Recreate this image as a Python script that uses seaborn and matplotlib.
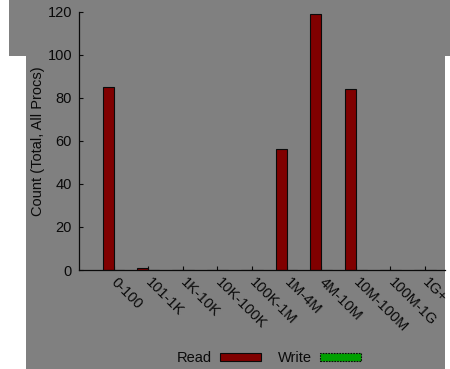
import matplotlib
matplotlib.use("Agg")
import matplotlib.pyplot as plt
from matplotlib.patches import Patch, Rectangle
import seaborn as sns
import pandas as pd

# Access-size buckets and per-operation counts (all processes)
sizes = ["0-100", "101-1K", "1K-10K", "10K-100K", "100K-1M",
         "1M-4M", "4M-10M", "10M-100M", "100M-1G", "1G+"]
read_counts = [85, 1, 0, 0, 0, 56, 119, 84, 0, 0]
write_counts = [0, 0, 0, 0, 0, 0, 0, 0, 0, 0]
ops = ["Read", "Write"]
colors = {"Read": "#800000", "Write": "#00a000"}
y_ticks = [0, 20, 40, 60, 80, 100, 120]

df = pd.DataFrame({
    "size": sizes * 2,
    "count": read_counts + write_counts,
    "op": ["Read"] * len(sizes) + ["Write"] * len(sizes),
})

sns.set_theme(style="white")
plt.rcParams["font.family"] = ["Liberation Sans", "DejaVu Sans"]
plt.rcParams["text.color"] = "#0a0a0a"

W, H = 450, 369
FS = 10.5
fig = plt.figure(figsize=(W / 100, H / 100), dpi=100)
fig.patch.set_facecolor("white")

gray = "#808080"
# panel backgrounds
fig.patches.append(Rectangle((9 / W, 1 - 56 / H), (W - 9) / W, 56 / H,
                             transform=fig.transFigure, facecolor=gray,
                             edgecolor="none", zorder=-10))
fig.patches.append(Rectangle((26 / W, 0), (445 - 26) / W, 1 - 56 / H,
                             transform=fig.transFigure, facecolor=gray,
                             edgecolor="none", zorder=-10))

ax = fig.add_axes([79 / W, 99 / H, (445 - 79) / W, (357.3 - 99) / H])
ax.set_facecolor("none")

sns.barplot(data=df, x="size", y="count", hue="op", hue_order=ops,
            order=sizes, palette=colors, saturation=1, width=0.62,
            edgecolor="#0a0a0a", linewidth=0.8, legend=False, ax=ax)

ax.set_xlim(-1, -1 + (445 - 79) / 34.6)
ax.set_ylim(0, 120)
ax.set_yticks(y_ticks)
ax.set_yticklabels([str(v) for v in y_ticks], fontsize=FS)
ax.set_xticks(range(len(sizes)))
ax.set_xticklabels(sizes, fontsize=FS, rotation=-45,
                   rotation_mode="anchor", ha="left", va="center")
ax.tick_params(axis="both", direction="in", length=3, width=0.8,
               color="#0a0a0a", labelcolor="#0a0a0a")
ax.tick_params(axis="x", pad=7, bottom=True)
ax.tick_params(axis="y", pad=5, left=True)
ax.set_xlabel("")
ax.set_ylabel("Count (Total, All Procs)", fontsize=FS, labelpad=1.5,
              color="#0a0a0a")

for side in ["top", "right"]:
    ax.spines[side].set_visible(False)
for side in ["left", "bottom"]:
    ax.spines[side].set_color("#0a0a0a")
    ax.spines[side].set_linewidth(0.9)

handles = [
    Patch(facecolor=colors["Read"], edgecolor="#0a0a0a", linewidth=0.8),
    Patch(facecolor=colors["Write"], edgecolor="#0a0a0a", linewidth=0.8,
          linestyle=(0, (1.5, 1))),
]
fig.legend(handles, ops, loc="center", bbox_to_anchor=(269 / W, 1 - 358.5 / H),
           ncol=2, frameon=False, fontsize=FS, markerfirst=False,
           handlelength=2.8, handleheight=0.5, handletextpad=0.55,
           columnspacing=1.2)

fig.savefig("out.png", dpi=100, facecolor="white")
